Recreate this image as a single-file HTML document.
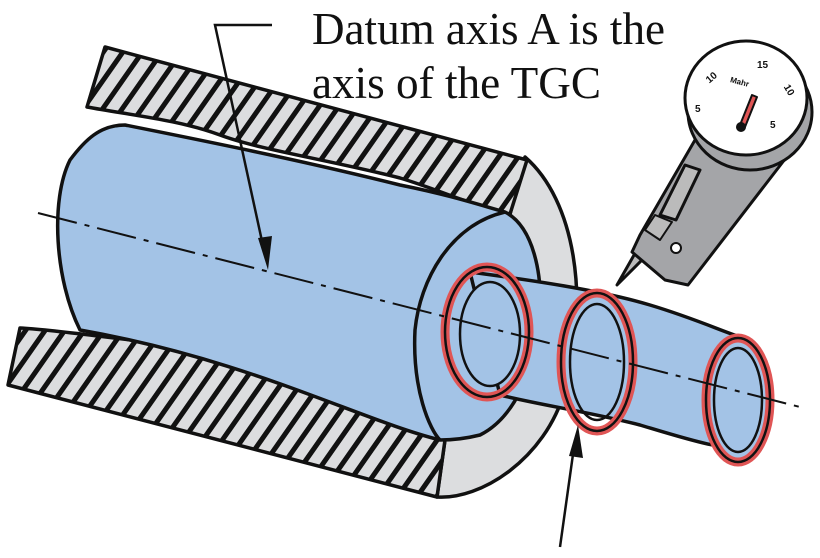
<!DOCTYPE html>
<html><head><style>html,body{margin:0;padding:0;background:#fff}svg{display:block}</style></head><body>
<svg width="820" height="558" viewBox="0 0 820 558" xmlns="http://www.w3.org/2000/svg">
<defs>
<pattern id="h" patternUnits="userSpaceOnUse" width="16" height="16" patternTransform="rotate(35)">
<rect width="16" height="16" fill="#dcdddf"/><rect width="5" height="16" fill="#111"/>
</pattern>
</defs>
<g stroke="#111" stroke-width="3.5" stroke-linejoin="round">
<path d="M525,157 C575,200 590,300 565,390 C545,460 480,500 437,497 L445,440 C470,420 505,330 510,214 Z" fill="#dcdddf"/>
<path d="M105,47 L527,160 L510,214 C470,205 440,190 400,178 C330,160 260,150 220,135 C180,120 130,115 87,107 Z" fill="url(#h)"/>
<path d="M20,328 C60,330 120,340 180,345 C260,360 340,390 445,440 L437,497 L8,385 Z" fill="url(#h)"/>
<path d="M125,125 C200,140 300,160 400,185 C450,195 480,205 505,212 C560,240 550,400 480,435 C460,440 445,440 440,440 C360,420 250,360 80,330 C55,280 50,200 70,160 C85,140 100,125 125,125 Z" fill="#a3c3e6"/>
<path d="M505,212 C450,225 420,280 415,330 C412,390 430,430 440,440" fill="none"/>
<path d="M470,272 C530,280 600,290 650,305 C700,320 730,335 750,340 L760,450 C720,450 690,440 640,425 C590,412 540,405 500,395 Z" fill="#a3c3e6"/>
<ellipse cx="487" cy="332" rx="42" ry="65" fill="none" stroke="#e05555" stroke-width="9"/>
<ellipse cx="487" cy="332" rx="42" ry="65" fill="none" stroke="#111" stroke-width="2.5"/>
<ellipse cx="490" cy="334" rx="30" ry="52" fill="#a3c3e6" stroke-width="2.5"/>
<ellipse cx="597" cy="362" rx="36" ry="69" fill="none" stroke="#e05555" stroke-width="9"/>
<ellipse cx="597" cy="362" rx="36" ry="69" fill="none" stroke="#111" stroke-width="2.5"/>
<ellipse cx="597" cy="362" rx="27" ry="58" fill="none" stroke-width="2.5"/>
<ellipse cx="738" cy="400" rx="32" ry="62" fill="#a3c3e6" stroke="#e05555" stroke-width="9"/>
<ellipse cx="738" cy="400" rx="32" ry="62" fill="none" stroke="#111" stroke-width="2.5"/>
<ellipse cx="738" cy="400" rx="24" ry="52" fill="none" stroke-width="2.5"/>
</g>
<line x1="38" y1="213" x2="800" y2="407" stroke="#111" stroke-width="2" stroke-dasharray="40,8,5,8"/>
<polyline points="272,25 215,25 265,255" fill="none" stroke="#111" stroke-width="2.5"/>
<polygon points="268,270 258,238 272,236" fill="#111"/>
<line x1="560" y1="547" x2="575" y2="440" stroke="#111" stroke-width="2.5"/>
<polygon points="578,425 569,456 583,458" fill="#111"/>
<g stroke="#111" stroke-width="3" stroke-linejoin="round">
<path d="M617,285 L638,248 L648,254 Z" fill="#bbb"/>
<path d="M695,140 L792,150 L688,285 L665,280 L632,252 L640,235 Z" fill="#a4a5a8"/>
<path d="M660,215 L685,165 L700,170 L676,220 Z" fill="#bbb"/>
<path d="M645,230 L655,215 L672,222 L660,240 Z" fill="#bbb" stroke-width="2"/>
<circle cx="676" cy="248" r="5" fill="#fff" stroke-width="2"/>
<ellipse cx="750" cy="112" rx="62" ry="58" fill="#a4a5a8"/>
<ellipse cx="746" cy="98" rx="61" ry="57" fill="#fff"/>
<path d="M740,125 L752,95 L757,97 L745,127 Z" fill="#e05555" stroke-width="2"/>
<circle cx="741" cy="127" r="3.5" fill="#111"/>
</g>
<g font-family="Liberation Sans, sans-serif" font-size="10" font-weight="bold" fill="#111">
<text x="705" y="80" transform="rotate(-40 712 76)">10</text><text x="757" y="68">15</text><text x="784" y="94" transform="rotate(60 790 90)">10</text>
<text x="695" y="112">5</text><text x="770" y="128">5</text><text x="730" y="86" font-size="8" transform="rotate(15 745 83)">Mahr</text>
</g>
<g font-family="Liberation Serif, serif" font-size="45" fill="#111">
<text x="312" y="44" textLength="353" lengthAdjust="spacingAndGlyphs">Datum axis A is the</text>
<text x="312" y="98" textLength="289" lengthAdjust="spacingAndGlyphs">axis of the TGC</text>
</g>
</svg>
</body></html>
